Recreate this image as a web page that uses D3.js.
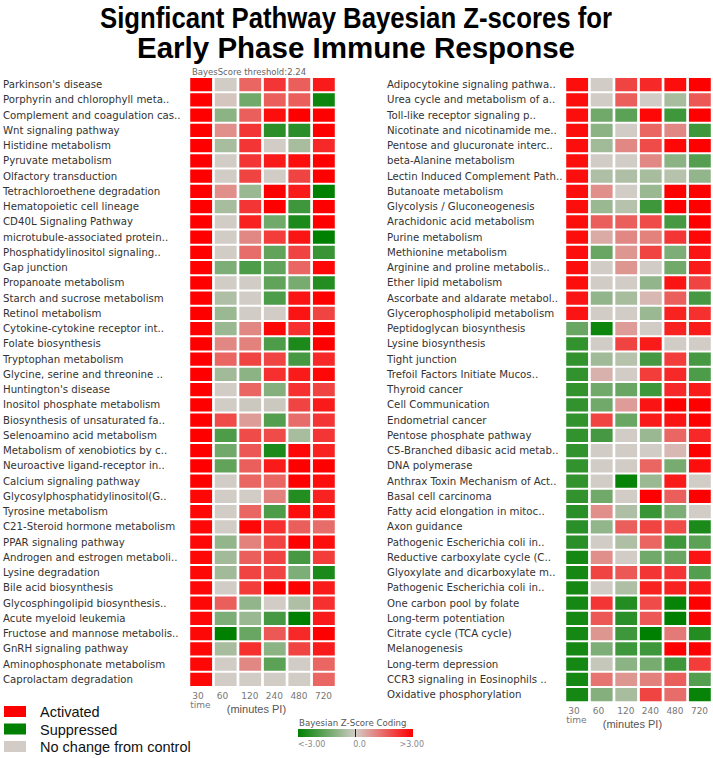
<!DOCTYPE html>
<html>
<head>
<meta charset="utf-8">
<script src="https://cdn.jsdelivr.net/npm/d3@7"></script>
<style>
  body { margin: 0; background: #fff; }
  svg { display: block; }
</style>
</head>
<body>
<div id="root"></div>
<script>
const timePoints = ["30", "60", "120", "240", "480", "720"];

const leftPathways = [
  "Parkinson's disease", "Porphyrin and chlorophyll meta..", "Complement and coagulation cas..",
  "Wnt signaling pathway", "Histidine metabolism", "Pyruvate metabolism", "Olfactory transduction",
  "Tetrachloroethene degradation", "Hematopoietic cell lineage", "CD40L Signaling Pathway",
  "microtubule-associated protein..", "Phosphatidylinositol signaling..", "Gap junction",
  "Propanoate metabolism", "Starch and sucrose metabolism", "Retinol metabolism",
  "Cytokine-cytokine receptor int..", "Folate biosynthesis", "Tryptophan metabolism",
  "Glycine, serine and threonine ..", "Huntington's disease", "Inositol phosphate metabolism",
  "Biosynthesis of unsaturated fa..", "Selenoamino acid metabolism", "Metabolism of xenobiotics by c..",
  "Neuroactive ligand-receptor in..", "Calcium signaling pathway", "Glycosylphosphatidylinositol(G..",
  "Tyrosine metabolism", "C21-Steroid hormone metabolism", "PPAR signaling pathway",
  "Androgen and estrogen metaboli..", "Lysine degradation", "Bile acid biosynthesis",
  "Glycosphingolipid biosynthesis..", "Acute myeloid leukemia", "Fructose and mannose metabolis..",
  "GnRH signaling pathway", "Aminophosphonate metabolism", "Caprolactam degradation"
];

// z-scores per pathway, one value per time point
const leftScores = [
  [3, 0, 1.5, 2.2, 1.6, 2.6],
  [3, 0.1, -1.4, 1.6, 1.6, -2.8],
  [3, -1.0, 1.6, 2.8, 3, 3],
  [3, 0.9, 2.2, -2.4, -2.4, 3],
  [3, -0.6, 2.2, 0, -0.6, 2.4],
  [3, 0, 2.2, 2.6, 2.8, 3],
  [3, 0, 2.0, 0, 2.0, 3],
  [3, 0.9, -0.8, 3, 2.6, -3],
  [3, -0.6, 2.2, 3, -2.1, 3],
  [3, 0, 2.5, -1.4, -2.6, 3],
  [3, 0, 1.0, 2.1, 2.7, -3],
  [3, 0, 1.4, -1.6, 2.0, -2.2],
  [3, -1.2, -1.9, -1.6, 1.5, 2.9],
  [3, 0, 0, -1.6, -1.3, -2.5],
  [3, -0.5, 0, -1.9, 2.7, 3],
  [3, -0.8, 0, 0, 2.7, 2.0],
  [3, -0.8, 1.0, 2.9, 2.3, 3],
  [3, 1.0, 1.1, -1.9, -2.6, 3],
  [3, 1.5, 2.0, 2.0, -2.0, 2.4],
  [3, -0.7, -1.0, 2.3, 2.6, 2.9],
  [3, 0, 1.5, -1.1, 2.3, 2.0],
  [3, 0, -0.1, -0.1, 2.0, 2.6],
  [3, 1.9, 0.7, -1.8, 1.4, 2.2],
  [3, -1.9, 1.9, 1.9, -0.6, 2.2],
  [3, -1.4, 1.7, -2.6, 2.9, 2.5],
  [3, -1.6, 1.6, 2.6, 3, 3],
  [3, 0, 1.5, 1.5, 3, 2.8],
  [2.9, 0, 0, 1.1, -2.5, 2.5],
  [2.9, 0, 1.5, -1.9, 2.8, 2.8],
  [2.9, 0, 2.9, 2.3, 1.6, 1.4],
  [2.9, -0.9, 1.1, 2.0, 3, 2.8],
  [2.9, -0.7, 1.6, 2.0, -2.0, 2.1],
  [2.9, -0.7, 2.0, 2.0, -1.2, -2.6],
  [2.9, 0, 2.1, 3, 3, 2.6],
  [2.9, 1.6, -0.9, 0, -0.5, 2.3],
  [2.9, -1.2, -0.8, -2.0, -3, 2.6],
  [2.9, -3, -1.5, 1.7, 2.4, 3],
  [2.9, -0.6, 2.3, -1.0, 2.0, 2.6],
  [2.9, 0, 1.0, -1.7, 0, 1.5],
  [2.9, 0, 0, 0, 0, 1.5]
];

const rightPathways = [
  "Adipocytokine signaling pathwa..", "Urea cycle and metabolism of a..", "Toll-like receptor signaling p..",
  "Nicotinate and nicotinamide me..", "Pentose and glucuronate interc..", "beta-Alanine metabolism",
  "Lectin Induced Complement Path..", "Butanoate metabolism", "Glycolysis / Gluconeogenesis",
  "Arachidonic acid metabolism", "Purine metabolism", "Methionine metabolism",
  "Arginine and proline metabolis..", "Ether lipid metabolism", "Ascorbate and aldarate metabol..",
  "Glycerophospholipid metabolism", "Peptidoglycan biosynthesis", "Lysine biosynthesis",
  "Tight junction", "Trefoil Factors Initiate Mucos..", "Thyroid cancer", "Cell Communication",
  "Endometrial cancer", "Pentose phosphate pathway", "C5-Branched dibasic acid metab..",
  "DNA polymerase", "Anthrax Toxin Mechanism of Act..", "Basal cell carcinoma",
  "Fatty acid elongation in mitoc..", "Axon guidance", "Pathogenic Escherichia coli in..",
  "Reductive carboxylate cycle (C..", "Glyoxylate and dicarboxylate m..", "Pathogenic Escherichia coli in..",
  "One carbon pool by folate", "Long-term potentiation", "Citrate cycle (TCA cycle)",
  "Melanogenesis", "Long-term depression", "CCR3 signaling in Eosinophils ..",
  "Oxidative phosphorylation"
];

const rightScores = [
  [2.8, 0, 2.0, 2.4, 2.8, 3],
  [2.8, 0, 1.6, 0, -0.6, 1.7],
  [2.8, -1.4, -1.7, 2.9, -2.1, 3],
  [2.8, -1.0, 0, 1.5, 1.0, -2.1],
  [2.8, -0.7, 1.0, 1.9, 2.9, 3],
  [2.8, 0, 0, 1.0, -1.0, -1.8],
  [2.8, -0.5, -0.5, -0.6, -0.4, -0.9],
  [2.8, 0.9, 0, -0.8, 3, 3],
  [2.8, -0.8, -0.4, -2.1, 3, 3],
  [2.8, 1.6, 1.6, 1.9, -2.0, 3],
  [2.8, 0.5, 1.0, 1.1, 2.2, 2.9],
  [2.8, -1.5, 0.8, 2.0, -1.2, 2.7],
  [2.8, 0, 0.8, 0, -1.4, 2.6],
  [2.8, 0, 0, -0.9, 2.7, 2.0],
  [2.7, -0.9, -0.6, 0.3, 1.6, -2.0],
  [2.7, 0, 0, -0.8, 2.5, 2.3],
  [-1.5, -2.8, 0.7, 0, 2.5, 2.6],
  [-2.3, 0, 2.0, 2.6, 0, 0],
  [-2.3, -0.7, -0.4, -2.0, 2.1, -2.0],
  [-2.3, 0.4, 0, 2.1, 2.4, -1.9],
  [-2.3, -1.4, -1.5, -2.1, 2.4, 2.6],
  [-2.3, -1.4, 0.7, 2.7, 3, 3],
  [-2.3, 2.0, -1.5, 2.6, 2.7, 3],
  [-2.3, -2.0, 0, -0.8, 1.5, 2.4],
  [-2.3, 0, 0, 0, 0.3, 3],
  [-2.3, 0, 0, 1.5, -1.3, 2.8],
  [-2.3, 0, -2.9, -0.8, 2.6, 0],
  [-2.3, -1.4, 0, 3, 1.6, 3],
  [-2.4, 0.9, -0.5, -2.2, -1.2, 0],
  [-2.4, -0.9, 1.6, 2.0, 1.9, -2.6],
  [-2.4, 0, -0.5, 1.5, -2.1, -1.7],
  [-2.7, 0.9, 0, -1.4, -1.5, 2.7],
  [-2.7, 2.0, 1.7, 2.2, 2.2, -1.8],
  [-2.7, 0, -0.5, 2.5, 2.5, 2.7],
  [-2.7, 2.2, -2.5, 1.9, -2.9, 3],
  [-2.7, 1.7, -2.4, 1.7, -3, 3],
  [-2.7, 0.8, -2.1, -3, 1.2, -2.5],
  [-2.7, -1.2, -2.1, -2.1, 3, 3],
  [-2.7, -0.2, -1.0, -1.3, -2.1, 2.1],
  [-2.7, 1.3, 0.8, 1.1, 1.6, -1.8],
  [-2.7, -1.1, -0.6, 2.0, 1.4, -2.9]
];

const legendItems = ["Activated", "Suppressed", "No change from control"];
const legendColors = ["#ff0000", "#008000", "#d3cbc5"];
const codingTicks = ["<-3.00", "0.0", ">3.00"];

const width = 713;
const height = 758;
const rowStep = 15.25;

const color = d3.scaleLinear()
  .domain([-3, 0, 3])
  .range(["#008000", "#d2ccc6", "#ff0000"])
  .clamp(true);

const svg = d3.select("#root")
  .append("svg")
  .attr("width", width)
  .attr("height", height);

// title
const title = svg.append("g")
  .attr("font-family", "'Liberation Sans', Arial, sans-serif")
  .attr("font-weight", "bold")
  .attr("font-size", 29)
  .attr("fill", "#000")
  .attr("text-anchor", "middle");
title.append("text").attr("x", 356).attr("y", 28)
  .attr("textLength", 512).attr("lengthAdjust", "spacingAndGlyphs")
  .text("Signficant Pathway Bayesian Z-scores for");
title.append("text").attr("x", 356).attr("y", 58)
  .attr("textLength", 438).attr("lengthAdjust", "spacingAndGlyphs")
  .text("Early Phase Immune Response");

svg.append("text")
  .attr("x", 192).attr("y", 75)
  .attr("font-family", "'DejaVu Sans', Verdana, sans-serif")
  .attr("font-size", 8.5)
  .attr("fill", "#666")
  .text("BayesScore threshold:2.24");

function drawPanel(names, scores, labelX, x0, x1, top) {
  const g = svg.append("g");

  const x = d3.scaleBand()
    .domain(timePoints)
    .range([x0, x1])
    .paddingInner(0.11)
    .paddingOuter(0.05);

  const y = d3.scaleBand()
    .domain(d3.range(names.length))
    .range([top, top + names.length * rowStep])
    .paddingInner(0.13)
    .paddingOuter(0.065);

  g.selectAll("text.label")
    .data(names)
    .enter()
    .append("text")
    .attr("class", "label")
    .attr("x", labelX)
    .attr("y", (d, i) => y(i) + y.bandwidth() / 2)
    .attr("dy", "0.35em")
    .attr("font-family", "'DejaVu Sans', Verdana, sans-serif")
    .attr("font-size", 10.2)
    .attr("fill", "#333")
    .text(d => d);

  const rows = g.selectAll("g.row")
    .data(scores)
    .enter()
    .append("g")
    .attr("class", "row")
    .attr("transform", (d, i) => `translate(0,${y(i)})`);

  rows.selectAll("rect")
    .data(d => d.map((v, j) => ({t: timePoints[j], v: v})))
    .enter()
    .append("rect")
    .attr("x", d => x(d.t))
    .attr("width", x.bandwidth())
    .attr("height", y.bandwidth())
    .attr("fill", d => color(d.v));

  const bottom = top + names.length * rowStep;

  g.selectAll("text.tick")
    .data(timePoints)
    .enter()
    .append("text")
    .attr("class", "tick")
    .attr("x", d => x(d) + 2)
    .attr("y", bottom + 12)
    .attr("font-family", "'DejaVu Sans', Verdana, sans-serif")
    .attr("font-size", 9)
    .attr("fill", "#777")
    .text(d => d);

  g.append("text")
    .attr("x", x(timePoints[0]))
    .attr("y", bottom + 21)
    .attr("font-family", "'DejaVu Sans', Verdana, sans-serif")
    .attr("font-size", 9)
    .attr("fill", "#777")
    .text("time");

  g.append("text")
    .attr("x", x(timePoints[1]) + 12)
    .attr("y", bottom + 26)
    .attr("font-family", "'Liberation Sans', Arial, sans-serif")
    .attr("font-size", 11)
    .attr("fill", "#555")
    .text("(minutes PI)");
}

drawPanel(leftPathways, leftScores, 3, 189, 336, 77);
drawPanel(rightPathways, rightScores, 387, 565, 712, 77);

// legend boxes
const legend = svg.append("g")
  .selectAll("g")
  .data(legendItems)
  .enter()
  .append("g")
  .attr("transform", (d, i) => `translate(4,${706 + i * 17.5})`);

legend.append("rect")
  .attr("width", 22)
  .attr("height", 11)
  .attr("fill", (d, i) => legendColors[i]);

legend.append("text")
  .attr("x", 36)
  .attr("y", 11)
  .attr("font-family", "'Liberation Sans', Arial, sans-serif")
  .attr("font-size", 14.5)
  .attr("fill", "#111")
  .text(d => d);

// z-score coding bar
const grad = svg.append("defs").append("linearGradient")
  .attr("id", "zgrad");
grad.selectAll("stop")
  .data([-3, -1.5, 0, 1.5, 3])
  .enter()
  .append("stop")
  .attr("offset", d => `${(d + 3) / 6 * 100}%`)
  .attr("stop-color", d => color(d));

const barScale = d3.scaleLinear().domain([-3, 3]).range([298, 413]);

svg.append("text")
  .attr("x", 299).attr("y", 726)
  .attr("font-family", "'DejaVu Sans', Verdana, sans-serif")
  .attr("font-size", 8.6)
  .attr("fill", "#555")
  .text("Bayesian Z-Score Coding");

svg.append("rect")
  .attr("x", barScale(-3)).attr("y", 729)
  .attr("width", barScale(3) - barScale(-3))
  .attr("height", 8)
  .attr("fill", "url(#zgrad)");

svg.append("line")
  .attr("x1", barScale(0)).attr("x2", barScale(0))
  .attr("y1", 729).attr("y2", 737)
  .attr("stroke", "#222")
  .attr("stroke-width", 1);

svg.selectAll("text.coding")
  .data(codingTicks)
  .enter()
  .append("text")
  .attr("class", "coding")
  .attr("x", (d, i) => barScale([-3, 0, 3][i]) + [0, 4, 11][i])
  .attr("y", 747)
  .attr("text-anchor", (d, i) => ["start", "middle", "end"][i])
  .attr("font-family", "'DejaVu Sans', Verdana, sans-serif")
  .attr("font-size", 8)
  .attr("fill", "#888")
  .text(d => d);
</script>
</body>
</html>
